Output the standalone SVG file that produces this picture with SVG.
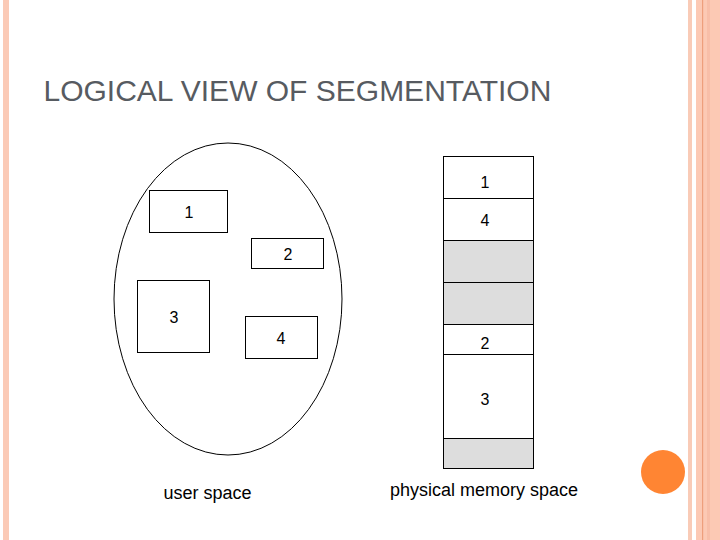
<svg xmlns="http://www.w3.org/2000/svg" width="720" height="540" viewBox="0 0 720 540">
  <style>
    .box { fill: #FFFFFF; stroke: #000000; stroke-width: 1; }
    .gray { fill: #DDDDDD; stroke: #000000; stroke-width: 1; }
    .num { font-family: "Liberation Sans", Arial, sans-serif; font-size: 16px; fill: #000000; text-anchor: middle; }
    .cap { font-family: "Liberation Sans", Arial, sans-serif; font-size: 18px; fill: #000000; }
    .title { font-family: "Liberation Sans", Arial, sans-serif; font-size: 30px; fill: #575B61; }
  </style>
  <rect x="0" y="0" width="720" height="540" fill="#FFFFFF"/>
  <!-- decorative borders -->
  <g id="decor">
    <rect x="3" y="0" width="6" height="540" fill="#FBCAB6"/>
    <rect x="688" y="0" width="4" height="540" fill="#F9CBB7"/>
    <rect x="696" y="0" width="24" height="540" fill="#FCC9B4"/>
    <rect x="702" y="0" width="1.2" height="540" fill="#EE9F7C"/>
    <rect x="707" y="0" width="3" height="540" fill="#F8BEA8"/>
    <circle cx="663" cy="472" r="22" fill="#FF8533"/>
  </g>
  <text class="title" x="43.5" y="101">LOGICAL VIEW OF SEGMENTATION</text>

  <!-- user space -->
  <g id="user-space">
    <ellipse cx="228" cy="299" rx="114" ry="156" fill="#FFFFFF" stroke="#000000" stroke-width="1"/>
  </g>
  <g id="u1">
    <rect class="box" x="149.5" y="190.5" width="78" height="42"/>
    <text class="num" x="189" y="218">1</text>
  </g>
  <g id="u2">
    <rect class="box" x="251.5" y="238.5" width="72" height="30"/>
    <text class="num" x="288" y="260">2</text>
  </g>
  <g id="u3">
    <rect class="box" x="137.5" y="280.5" width="72" height="72"/>
    <text class="num" x="174" y="323">3</text>
  </g>
  <g id="u4">
    <rect class="box" x="245.5" y="316.5" width="72" height="42"/>
    <text class="num" x="281" y="344">4</text>
  </g>
  <text class="cap" x="163.5" y="499">user space</text>

  <!-- physical memory -->
  <g id="m1">
    <rect class="box" x="443.5" y="156.5" width="90" height="42"/>
    <text class="num" x="485" y="188">1</text>
  </g>
  <g id="m4">
    <rect class="box" x="443.5" y="198.5" width="90" height="42"/>
    <text class="num" x="485" y="226">4</text>
  </g>
  <g id="mfree1">
    <rect class="gray" x="443.5" y="240.5" width="90" height="42"/>
  </g>
  <g id="mfree2">
    <rect class="gray" x="443.5" y="282.5" width="90" height="42"/>
  </g>
  <g id="m2">
    <rect class="box" x="443.5" y="324.5" width="90" height="30"/>
    <text class="num" x="485" y="349">2</text>
  </g>
  <g id="m3">
    <rect class="box" x="443.5" y="354.5" width="90" height="84"/>
    <text class="num" x="485" y="405">3</text>
  </g>
  <g id="mfree3">
    <rect class="gray" x="443.5" y="438.5" width="90" height="30"/>
  </g>
  <text class="cap" x="390" y="496">physical memory space</text>
  <g id="connectors"/>
</svg>
